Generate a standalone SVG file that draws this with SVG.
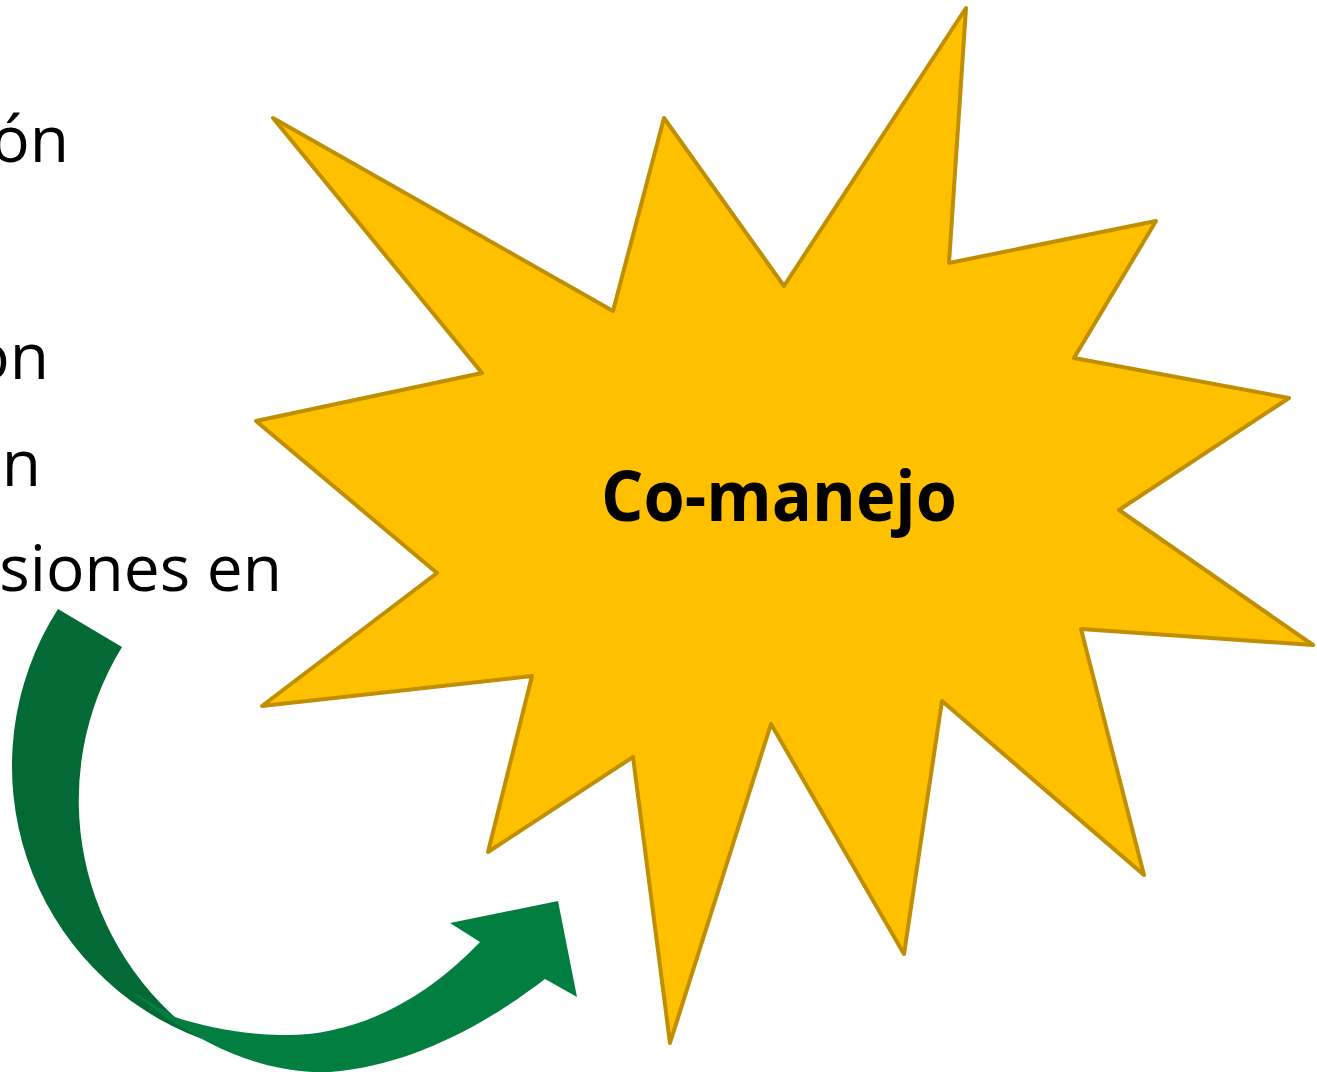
<svg xmlns="http://www.w3.org/2000/svg" width="1317" height="1072" viewBox="0 0 1317 1072">
<style>
.body{font-family:"Open Sans","Liberation Sans",sans-serif;font-size:64px;fill:#000}
.title{font-family:"Open Sans","Liberation Sans",sans-serif;font-weight:bold;font-size:69px;fill:#000}
.star{fill:#FFC000;stroke:#BF8F00;stroke-width:4;stroke-linejoin:round}
</style>
<rect width="1317" height="1072" fill="#fff"/>
<g id="left-text">
<text class="body" x="69" y="162" text-anchor="end">ón</text>
<text class="body" x="49" y="379" text-anchor="end">on</text>
<text class="body" x="41" y="486" text-anchor="end">n</text>
<text class="body" x="282" y="591" text-anchor="end">siones en</text>
</g>
<g id="connectors">
<path d="M58,609 A291,291 0 0,0 202,1039 A293,293 0 0,1 122,647 Z" fill="#036A35"/>
<path d="M175,1017 L130,990 C190,1040 260,1075 330,1072 C410,1066 485,1025 545,979 L577,997 L558,901 L450,923 L480,942 C420,1005 350,1037 280,1035 C240,1034 205,1027 175,1017 Z" fill="#027F40"/>
</g>
<g id="comanejo">
<polygon class="star" points="273,118 613,311 664,118 784,286 966,8 949,263 1156,221 1074,358 1289,398 1119,510 1313,645 1081,629 1144,875 942,701 904,954 771,724 670,1043 633,757 488,852 532,676 262,706 437,573 256,421 482,373"/>
<text class="title" x="779" y="521" text-anchor="middle" textLength="356" lengthAdjust="spacingAndGlyphs">Co-manejo</text>
</g>
</svg>
